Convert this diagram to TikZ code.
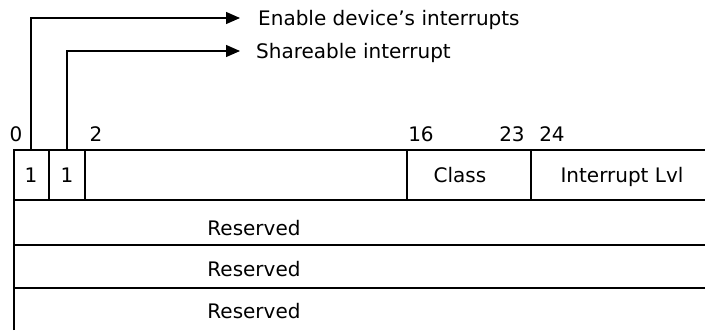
\documentclass[tikz,border=0pt]{standalone}
\usepackage{fontspec}
\setmainfont{DejaVu Sans}
\usetikzlibrary{arrows.meta, positioning}

\begin{document}
\begin{tikzpicture}[x=1pt, y=-1pt,
    reg/.style={line width=1.3pt},
    lbl/.style={font=\fontsize{20}{23}\selectfont, inner sep=0pt, anchor=base},
    arrow/.style={-{Triangle[length=14pt, width=12pt]}, line width=1.3pt}]
  \useasboundingbox (0,0) rectangle (705,330);
  % register rows
  \draw[reg] (14,330) -- (14,150) -- (705,150);
  \draw[reg] (14,200) -- (705,200);
  \draw[reg] (14,245) -- (705,245);
  \draw[reg] (14,288) -- (705,288);
  % field dividers
  \foreach \x in {49,85,407,531}
    \draw[reg] (\x,150) -- (\x,200);
  % field contents
  \node[lbl] (enbit) at (31,182) {1};
  \node[lbl] (shbit) at (67,182) {1};
  \node[lbl] (cls) at (460,182) {Class};
  \node[lbl] (lvl) at (622,182) {Interrupt Lvl};
  \foreach \y/\n in {235/resa, 276/resb, 318/resc}
    \node[lbl] (\n) at (254,\y) {Reserved};
  % bit numbers
  \foreach \x/\b in {16/0, 96/2, 421/16, 512/23, 552/24}
    \node[lbl] (bit\b) at (\x,141) {\b};
  % flag arrows
  \coordinate (entop) at (31,150);
  \coordinate (shtop) at (67,150);
  \node[lbl, anchor=base west] (entxt) at (258,25) {Enable device's interrupts};
  \node[lbl, anchor=base west] (shtxt) at (256,58) {Shareable interrupt};
  \draw[arrow] (entop) |- ([xshift=-18pt, yshift=7pt]entxt.base west);
  \draw[arrow] (shtop) |- ([xshift=-16pt, yshift=7pt]shtxt.base west);
\end{tikzpicture}
\end{document}
